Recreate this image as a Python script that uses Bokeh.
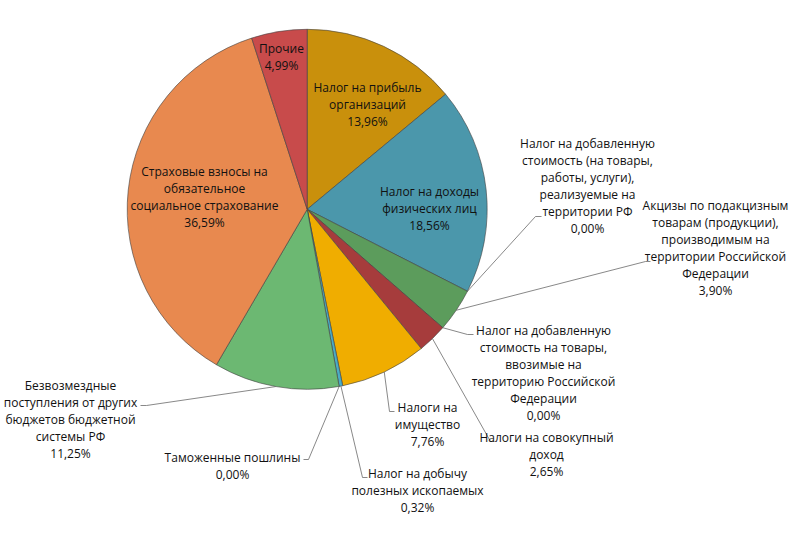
import numpy as np
from bokeh.plotting import figure
from bokeh.models import Range1d, ColumnDataSource
from bokeh.core.properties import value
from bokeh.embed import file_html
from bokeh.resources import INLINE

# ---- data ----
categories = [
    "Налог на прибыль\nорганизаций",
    "Налог на доходы\nфизических лиц",
    "Налог на добавленную\nстоимость (на товары,\nработы, услуги),\nреализуемые на\nтерритории РФ",
    "Акцизы по подакцизным\nтоварам (продукции),\nпроизводимым на\nтерритории Российской\nФедерации",
    "Налог на добавленную\nстоимость на товары,\nввозимые на\nтерриторию Российской\nФедерации",
    "Налоги на совокупный\nдоход",
    "Налоги на\nимущество",
    "Налог на добычу\nполезных ископаемых",
    "Таможенные пошлины",
    "Безвозмездные\nпоступления от других\nбюджетов бюджетной\nсистемы РФ",
    "Страховые взносы на\nобязательное\nсоциальное страхование",
    "Прочие",
]
shares = [13.96, 18.56, 0.00, 3.90, 0.00, 2.65, 7.76, 0.32, 0.00, 11.25, 36.59, 4.99]
colors = ["#C9900C", "#4B97AB", "#4B97AB", "#5C9C5C", "#A63C3C", "#A63C3C",
          "#F0AD00", "#4BACC6", "#4BACC6", "#6CB872", "#E8894F", "#C84B4B"]

# ---- layout (image pixel coords, y downward) ----
CX, CY, R = 306.7, 208.8, 180.0
LINE_H = 17
# (center x, first line y, elbow, end) ; elbow None => inside label
label_layout = [
    (367, 87, None, None),
    (429, 191, None, None),
    (587, 143, (535, 216), (541, 216)),
    (715, 205, (645, 261), (650, 261)),
    (543, 330, (467, 334), (473, 334)),
    (546, 437, (490, 441), (494, 441)),
    (427, 407, (389, 411), (394, 411)),
    (417, 473, (362, 477), (367, 477)),
    (232, 457, (308, 459), (303, 459)),
    (70, 385, (146, 405), (140, 405)),
    (204, 171, None, None),
    (281, 48, None, None),
]

W, H = 792, 534
p = figure(width=W, height=H, output_backend="svg", toolbar_location=None,
           x_range=Range1d(0, W), y_range=Range1d(-H, 0),
           min_border=0)
p.axis.visible = False
p.grid.visible = False
p.outline_line_color = None
p.background_fill_color = "white"

total = float(sum(shares))
fr = np.array(shares) / total
cum_end = np.cumsum(fr)
cum_start = cum_end - fr
theta_s = cum_start * 2 * np.pi
theta_e = cum_end * 2 * np.pi

nz = [i for i, v in enumerate(shares) if v > 0]
src = ColumnDataSource(dict(
    start=[np.pi / 2 - theta_s[i] for i in nz],
    end=[np.pi / 2 - theta_e[i] for i in nz],
    color=[colors[i] for i in nz],
))
p.wedge(x=CX, y=-CY, radius=R, start_angle="start", end_angle="end",
        direction="clock", fill_color="color", line_color="#404040",
        line_width=0.6, source=src)

# leaders
xs, ys = [], []
for i, (cx, y0, elbow, end) in enumerate(label_layout):
    if elbow is None:
        continue
    th = (theta_s[i] + theta_e[i]) / 2
    px = CX + R * np.sin(th)
    py = CY - R * np.cos(th)
    xs.append([px, elbow[0], end[0]])
    ys.append([-py, -elbow[1], -end[1]])
p.multi_line(xs=xs, ys=ys, line_color="#6a6a6a", line_width=0.8)

# labels
tx, ty, tt = [], [], []
for i, (cx, y0, elbow, end) in enumerate(label_layout):
    pct = f"{shares[i]:.2f}".replace(".", ",") + "%"
    lines = categories[i].split("\n") + [pct]
    for k, ln in enumerate(lines):
        tx.append(cx)
        ty.append(-(y0 + k * LINE_H))
        tt.append(ln)
p.text(x=tx, y=ty, text=tt, text_align="center", text_baseline="middle",
       text_font=value("Open Sans"), text_font_size="12px", text_color="#111111")

open("out.html", "w").write(file_html(p, INLINE))
